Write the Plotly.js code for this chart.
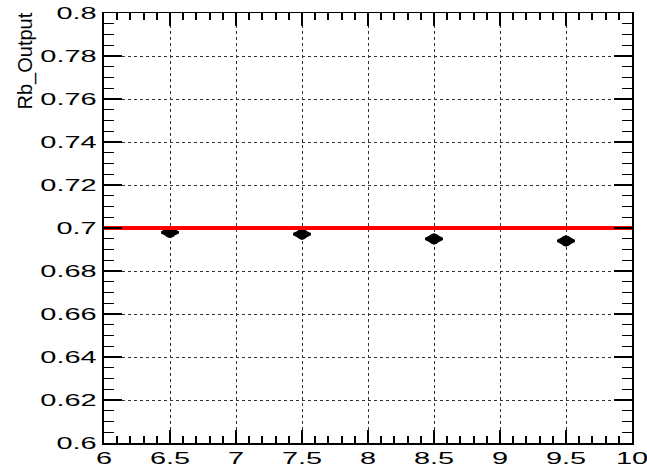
<!DOCTYPE html>
<html>
<head>
<meta charset="utf-8">
<script src="https://cdn.plot.ly/plotly-3.0.1.min.js"></script>
<style>
  html, body { margin: 0; padding: 0; background: #fff; }
  #chart { width: 647px; height: 474px; }
</style>
</head>
<body>
<div id="chart"></div>
<script>
// ---- data ----
const xValues = [6.5, 7.5, 8.5, 9.5];
const rbOutput = [0.6980, 0.6971, 0.6949, 0.6940];
const refX = [6, 10];
const refY = [0.7, 0.7];
const xTickVals = [6, 6.5, 7, 7.5, 8, 8.5, 9, 9.5, 10];
const xTickText = ['6', '6.5', '7', '7.5', '8', '8.5', '9', '9.5', '10'];
const yTickVals = [0.6, 0.62, 0.64, 0.66, 0.68, 0.7, 0.72, 0.74, 0.76, 0.78, 0.8];
const yTickText = ['0.6', '0.62', '0.64', '0.66', '0.68', '0.7', '0.72', '0.74', '0.76', '0.78', '0.8'];
const yTitle = 'Rb_Output';

const FONT = 'Liberation Sans, Arial, sans-serif';

const data = [
  {
    x: xValues, y: rbOutput, type: 'scatter', mode: 'markers',
    marker: { symbol: 'diamond-wide', size: 12, color: '#000', line: { width: 2.5, color: '#000' } },
    hoverinfo: 'skip', showlegend: false
  },
  {
    x: xValues, y: rbOutput, type: 'scatter', mode: 'markers',
    marker: { symbol: 'circle', size: 11, color: '#000', line: { width: 0 } },
    showlegend: false
  },
  {
    x: refX, y: refY, type: 'scatter', mode: 'lines',
    line: { color: '#ff0000', width: 4 },
    showlegend: false
  }
];

const layout = {
  width: 647, height: 474,
  margin: { l: 104, r: 15, t: 13, b: 31, pad: 0 },
  paper_bgcolor: '#fff', plot_bgcolor: '#fff',
  font: { family: FONT, size: 17, color: '#000' },
  showlegend: false,
  xaxis: {
    range: [6, 10],
    tickmode: 'array', tickvals: xTickVals, ticktext: xTickText,
    ticks: 'inside', ticklen: 13, tickwidth: 2, tickcolor: '#000',
    minor: { dtick: 0.1, tick0: 6, ticks: 'inside', ticklen: 7, tickwidth: 2, tickcolor: '#000', showgrid: false },
    showline: true, linecolor: '#000', linewidth: 1.5, mirror: 'ticks',
    showgrid: true, gridcolor: '#333', griddash: 'dot', gridwidth: 1,
    zeroline: false,
    tickfont: { family: FONT, size: 17, color: '#000' },
    ticklabelstandoff: -1
  },
  yaxis: {
    range: [0.6, 0.8],
    tickmode: 'array', tickvals: yTickVals, ticktext: yTickText,
    ticks: 'inside', ticklen: 18, tickwidth: 1.3, tickcolor: '#000',
    minor: { dtick: 0.005, tick0: 0.6, ticks: 'inside', ticklen: 10, tickwidth: 1.3, tickcolor: '#000', showgrid: false },
    showline: true, linecolor: '#000', linewidth: 2, mirror: 'ticks',
    showgrid: true, gridcolor: '#333', griddash: 'dot', gridwidth: 1,
    zeroline: false,
    tickfont: { family: FONT, size: 17, color: '#000' },
    ticklabelstandoff: 2
  },
  annotations: [{
    text: yTitle, xref: 'paper', yref: 'paper',
    x: -0.149, y: 0.888, xanchor: 'center', yanchor: 'middle',
    textangle: -90, showarrow: false,
    font: { family: FONT, size: 20, color: '#000' }
  }]
};

Plotly.newPlot('chart', data, layout, { staticPlot: true, displayModeBar: false }).then(function (gd) {
  gd.querySelectorAll('.xtick text, .ytick text').forEach(function (t) {
    const w = t.getComputedTextLength();
    t.setAttribute('textLength', (w * 1.7).toFixed(1));
    t.setAttribute('lengthAdjust', 'spacingAndGlyphs');
  });
});
</script>
</body>
</html>
